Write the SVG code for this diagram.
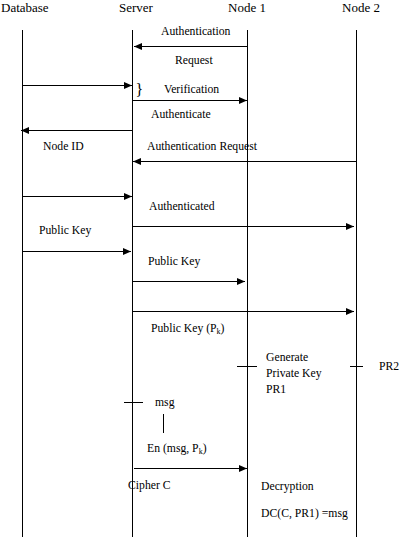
<svg xmlns="http://www.w3.org/2000/svg" width="402" height="540" viewBox="0 0 402 540" font-family="'Liberation Serif', 'Times New Roman', Times, serif">
<style>
text{font-family:'Liberation Serif','Times New Roman',Times,serif;fill:#000;}
.h{font-size:13px;}
.t{font-size:11.7px;}
.ll{stroke:#000;stroke-width:1;fill:none;}
.m{stroke:#000;stroke-width:1;fill:none;marker-end:url(#ah);}
.k{stroke:#000;stroke-width:1;fill:none;}
</style>
<defs>
<marker id="ah" markerUnits="userSpaceOnUse" markerWidth="9" markerHeight="8" refX="8" refY="3.5" orient="auto">
<path d="M0,0 L8,3.5 L0,7 z" fill="#000"/>
</marker>
</defs>
<rect width="402" height="540" fill="#fff"/>
<g id="database">
<text class="h" x="1" y="12">Database</text>
<line class="ll" x1="22.5" y1="30" x2="22.5" y2="537"/>
</g>
<g id="server">
<text class="h" x="119" y="12">Server</text>
<line class="ll" x1="132.5" y1="30" x2="132.5" y2="537"/>
</g>
<g id="node1">
<text class="h" x="228" y="12">Node 1</text>
<line class="ll" x1="247.5" y1="30" x2="247.5" y2="537"/>
</g>
<g id="node2">
<text class="h" x="342" y="12">Node 2</text>
<line class="ll" x1="356.5" y1="30" x2="356.5" y2="537"/>
</g>
<g id="connectors">
<line class="m" x1="247.5" y1="46.5" x2="134" y2="46.5"/>
<line class="m" x1="22.5" y1="85.5" x2="132" y2="85.5"/>
<line class="m" x1="132.5" y1="100.5" x2="247" y2="100.5"/>
<line class="m" x1="132.5" y1="130.5" x2="21" y2="130.5"/>
<line class="m" x1="356.5" y1="161.5" x2="133" y2="161.5"/>
<line class="m" x1="22.5" y1="196.5" x2="132" y2="196.5"/>
<line class="m" x1="132.5" y1="226.5" x2="354" y2="226.5"/>
<line class="m" x1="22.5" y1="251.5" x2="131" y2="251.5"/>
<line class="m" x1="132.5" y1="281.5" x2="245" y2="281.5"/>
<line class="m" x1="132" y1="311.5" x2="354" y2="311.5"/>
<line class="m" x1="134" y1="468.5" x2="247" y2="468.5"/>
<line class="k" x1="237" y1="366.5" x2="257" y2="366.5"/>
<line class="k" x1="350" y1="366.5" x2="363" y2="366.5"/>
<line class="k" x1="124" y1="402.5" x2="143" y2="402.5"/>
<line class="k" x1="163.5" y1="414" x2="163.5" y2="433"/>
</g>
<g id="labels">
<text class="t" x="161" y="35">Authentication</text>
<text class="t" x="175" y="64">Request</text>
<text x="135.5" y="95" style="font-size:16px">}</text>
<text class="t" x="164" y="93">Verification</text>
<text class="t" x="151" y="118">Authenticate</text>
<text class="t" x="43" y="150">Node ID</text>
<text class="t" x="147" y="150">Authentication Request</text>
<text class="t" x="149" y="210">Authenticated</text>
<text class="t" x="39" y="234">Public Key</text>
<text class="t" x="148" y="265">Public Key</text>
<text class="t" x="151" y="331.5">Public Key (P<tspan style="font-size:8px" dy="2">k</tspan><tspan dy="-2">)</tspan></text>
<text class="t" x="266" y="361">Generate</text>
<text class="t" x="266" y="377">Private Key</text>
<text class="t" x="266" y="392.5">PR1</text>
<text class="t" x="379" y="370">PR2</text>
<text class="t" x="155" y="406">msg</text>
<text class="t" x="147" y="451.5">En (msg, P<tspan style="font-size:8px" dy="2">k</tspan><tspan dy="-2">)</tspan></text>
<text class="t" x="128" y="489">Cipher C</text>
<text class="t" x="261" y="490">Decryption</text>
<text class="t" x="261" y="516.5">DC(C, PR1) =msg</text>
</g>
</svg>
